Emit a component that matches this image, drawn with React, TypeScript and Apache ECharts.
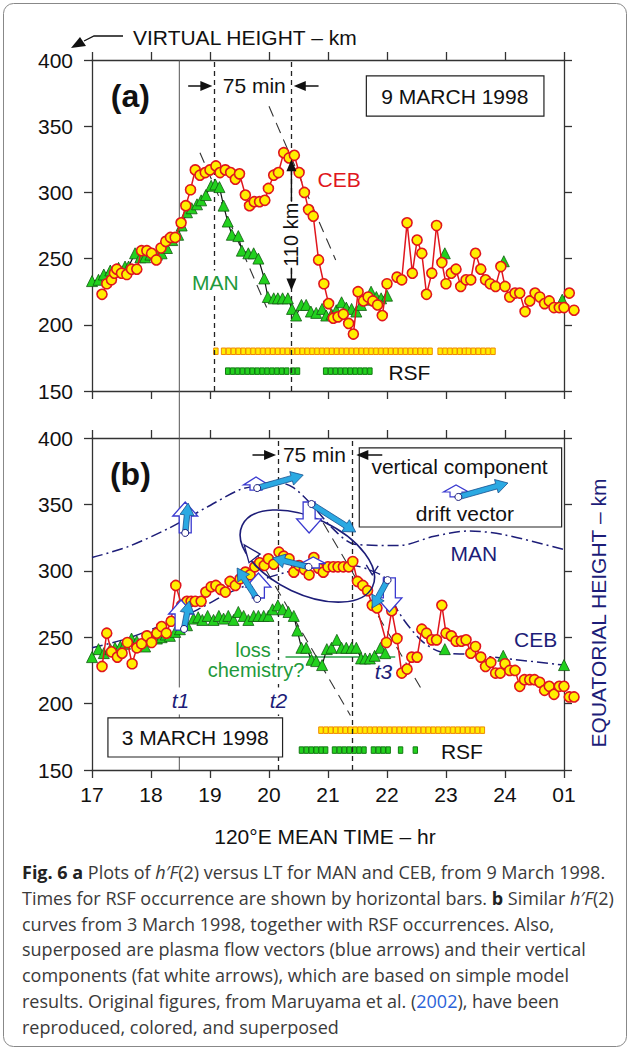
import React, { useEffect, useRef } from 'react';
import * as echarts from 'echarts';

// ---------------- data ----------------
const X_TICK_LABELS = ['17', '18', '19', '20', '21', '22', '23', '24', '01'];

// Panel (a) 9 March 1998 : h'F(2) [hour, km]
const CEB_A = [
  [17.17, 223], [17.25, 231], [17.33, 234], [17.38, 239], [17.42, 242], [17.5, 239], [17.59, 238], [17.67, 242], [17.76, 242],
  [17.84, 256], [17.93, 256], [18.01, 254], [18.09, 249], [18.17, 258], [18.25, 263], [18.33, 266], [18.41, 266], [18.51, 277],
  [18.59, 290], [18.67, 302], [18.75, 317], [18.83, 313], [18.92, 315], [19.0, 317], [19.1, 320], [19.17, 315], [19.26, 317],
  [19.35, 315], [19.43, 310], [19.5, 314], [19.6, 298], [19.67, 290], [19.75, 293], [19.84, 293], [19.93, 294], [19.99, 303],
  [20.08, 313], [20.16, 315], [20.25, 330], [20.34, 326], [20.43, 328], [20.51, 315], [20.6, 300], [20.67, 287], [20.75, 282],
  [20.84, 249], [20.93, 231], [21.01, 216], [21.09, 205], [21.17, 206], [21.26, 208], [21.35, 201], [21.43, 193], [21.51, 225],
  [21.6, 218], [21.68, 221], [21.76, 218], [21.84, 215], [21.92, 207], [22.0, 231], [22.08, null], [22.17, 236], [22.25, 234],
  [22.34, 277], [22.43, 239], [22.51, 264], [22.59, 254], [22.67, 223], [22.76, 239], [22.84, 275], [22.93, 247], [23.0, 231],
  [23.09, 239], [23.17, 242], [23.25, 229], [23.34, 234], [23.42, 234], [23.5, 254], [23.59, 242], [23.67, 234], [23.75, 231],
  [23.84, 229], [23.93, 244], [24.0, 229], [24.08, 221], [24.17, 224], [24.25, 224], [24.34, 210], [24.42, 218], [24.51, 224],
  [24.59, 221], [24.67, 216], [24.75, 218], [24.83, 213], [24.92, 213], [25.0, 213], [25.09, 224], [25.17, 211],
];
const MAN_A = [
  [17.0, 233], [17.11, 234], [17.2, 238], [17.31, 241], [17.45, 243], [17.56, 244], [17.62, 244], [17.73, 254], [17.82, 251],
  [17.9, 251], [17.99, 253], [18.1, 253], [18.18, 254], [18.27, 258], [18.36, 264], [18.46, 268], [18.52, 275], [18.61, 285],
  [18.69, 288], [18.78, 291], [18.85, 294], [18.93, 298], [19.02, 305], [19.09, 306], [19.16, 304], [19.23, 290], [19.3, 278],
  [19.37, 268], [19.48, 267], [19.54, 256], [19.65, 254], [19.74, 254], [19.82, 250], [19.92, 235], [19.98, 221], [20.08, 220],
  [20.15, 220], [20.23, 220], [20.32, 220], [20.39, 212], [20.46, 207], [20.55, 215], [20.63, 215], [20.71, 210], [20.8, 209],
  [20.9, 212], [20.97, 207], [21.06, 208], [21.14, 211], [21.23, 217], [21.31, 213], [21.4, 212], [21.48, 210], [21.56, 215],
  [21.65, 219], [21.73, 225], [21.82, 221], [21.9, 220], [22.0, 222], [22.5, null], [22.98, 254], [23.5, null], [23.98, 248],
  [24.5, null], [24.97, 219],
];
// RSF occurrence intervals [start hour, end hour]
const RSF_CEB_A = [[19.1, 19.1], [19.23, 22.73], [22.9, 23.3], [23.38, 23.8]];
const RSF_MAN_A = [[19.3, 20.27], [20.4, 20.45], [20.96, 21.68]];
const RSF_LEVEL_CEB = 180;
const RSF_LEVEL_MAN = 165;

// Panel (b) 3 March 1998
const CEB_B = [
  [17.17, 228], [17.25, 253], [17.33, 239], [17.43, 235], [17.51, 238], [17.6, 246], [17.68, 230], [17.76, 242], [17.84, 245],
  [17.93, 251], [18.01, 246], [18.1, 253], [18.18, 258], [18.26, 253], [18.34, 262], [18.42, 289], [18.52, 274], [18.61, 277],
  [18.68, 277], [18.75, 277], [18.85, 277], [18.93, 284], [19.02, 288], [19.1, 289], [19.18, 286], [19.26, 284], [19.34, 292],
  [19.43, 289], [19.51, 294], [19.6, 299], [19.68, 297], [19.76, 303], [19.84, 306], [19.92, 304], [19.99, 309], [20.08, 305],
  [20.17, 314], [20.25, 311], [20.34, 309], [20.42, 299], [20.51, 304], [20.6, 301], [20.68, 297], [20.76, 310], [20.84, 302],
  [20.92, 299], [21.0, 303], [21.09, 303], [21.17, 303], [21.26, 303], [21.35, 303], [21.42, 307], [21.5, 292], [21.59, 289],
  [21.67, 285], [21.75, 274], [21.83, 272], [21.99, 246], [22.08, 270], [22.17, 249], [22.25, 223], [22.34, 226], [22.42, 235],
  [22.51, 235], [22.59, 256], [22.67, 253], [22.76, 248], [22.84, 248], [22.93, 274], [23.0, 253], [23.09, 251], [23.17, 247],
  [23.26, 247], [23.34, 248], [23.42, 238], [23.5, 243], [23.59, 235], [23.67, 228], [23.76, 231], [23.84, 223], [23.92, 223],
  [24.0, 230], [24.08, 225], [24.17, 225], [24.25, 213], [24.33, 218], [24.42, 218], [24.5, 218], [24.59, 216], [24.67, 210],
  [24.75, 213], [24.83, 207], [24.92, 213], [25.0, 213], [25.09, 205], [25.17, 205],
];
const MAN_B = [
  [17.0, 235], [17.11, 241], [17.2, 238], [17.31, 241], [17.39, 242], [17.48, 243], [17.56, 245], [17.67, 249], [17.76, 247],
  [17.83, 244], [17.9, 243], [18.01, 250], [18.1, 249], [18.18, 250], [18.25, 252], [18.32, 251], [18.41, 254], [18.49, 256],
  [18.61, 259], [18.72, 264], [18.8, 265], [18.87, 263], [18.96, 266], [19.06, 263], [19.15, 266], [19.23, 264], [19.31, 266],
  [19.4, 263], [19.48, 269], [19.57, 266], [19.65, 263], [19.74, 266], [19.82, 266], [19.91, 266], [19.99, 266], [20.06, 271],
  [20.15, 274], [20.23, 271], [20.33, 269], [20.42, 266], [20.48, 255], [20.55, 242], [20.63, 242], [20.72, 233], [20.8, 232],
  [20.9, 229], [20.98, 241], [21.06, 242], [21.15, 248], [21.23, 242], [21.31, 242], [21.4, 242], [21.48, 242], [21.56, 234],
  [21.63, 234], [21.71, 234], [21.79, 236], [21.89, 242], [21.97, 238], [22.5, null], [22.98, 241], [23.5, null], [23.97, 236],
  [24.5, null], [25.0, 229],
];
// model equatorial heights (dash-dot curves)
const MAN_EQ_B = [
  [17.0, 310], [17.6, 318], [18.3, 332], [18.95, 348], [19.5, 361], [19.8, 364], [20.1, 367], [20.4, 363], [20.72, 350],
  [21.1, 331], [21.45, 320], [22.2, 319], [22.8, 326], [23.4, 330], [24.0, 327], [25.0, 316],
];
const CEB_EQ_B = [
  [17.0, 242], [17.6, 249], [18.18, 259], [18.8, 271], [19.3, 283], [19.8, 292], [20.3, 299], [20.7, 302], [21.4, 304],
  [21.8, 299], [22.0, 293], [22.17, 271], [22.57, 248], [22.9, 239], [23.4, 237], [24.0, 234], [25.0, 229],
];
const LOSS_LINE_B = [[20.28, 235], [22.14, 235]];
const RSF_CEB_B = [[20.88, 21.13], [21.21, 22.37], [22.45, 23.63]];
const RSF_MAN_B = [[20.55, 20.85], [20.96, 20.96], [21.11, 21.6], [21.77, 22.03], [22.23, 22.23], [22.48, 22.48]];

// plasma drift vectors (tail -> head) [h1, v1, h2, v2]
const DRIFT_VECTORS = [
  [18.58, 328.5, 18.63, 351], [19.8, 362.3, 20.58, 372.1], [20.72, 350.3, 21.47, 329.2], [22.01, 293, 21.75, 272],
  [18.56, 256.2, 18.65, 277.3], [19.8, 278.8, 19.46, 302.1], [20.67, 302.9, 20.06, 309.6],
];
// vertical components [h, v tail, v head]
const VERTICAL_COMPONENTS = [
  [18.58, 328.5, 351.8], [19.78, 360.8, 370.6], [20.68, 351.8, 328.5], [22.04, 294.6, 269],
  [18.51, 255.4, 278], [19.82, 279.5, 298.3], [20.75, 302.1, 310.4],
];

// ---------------- styles ----------------
const FONT = '"Liberation Sans", Arial, Helvetica, sans-serif';
const CAP_FONT = '"Open Sans", "Noto Sans", sans-serif';
const NAVY = '#1d1d78';
const RED = '#e0161d';
const YEL = '#ffee00';
const GRN = '#22d11e';
const GRN_TXT = '#1f9a3c';
const AX = { color: '#333', width: 1.3 };

function xAxis(gridIndex: number, position: string, showLabel: boolean) {
  return {
    type: 'value', gridIndex, position, min: 17, max: 25, interval: 1,
    axisLine: { show: true, onZero: false, lineStyle: AX },
    axisTick: { show: true, length: 8, lineStyle: AX },
    axisLabel: {
      show: showLabel, margin: 14, fontSize: 21, color: '#111', fontFamily: FONT,
      formatter: (v: number) => X_TICK_LABELS[Math.round(v - 17)],
    },
    splitLine: { show: false },
  };
}
function yAxis(gridIndex: number, position: string, showLabel: boolean) {
  return {
    type: 'value', gridIndex, position, min: 150, max: 400, interval: 50,
    axisLine: { show: true, onZero: false, lineStyle: AX },
    axisTick: { show: true, length: 8, lineStyle: AX },
    axisLabel: { show: showLabel, margin: 19, fontSize: 21, color: '#111', fontFamily: FONT },
    splitLine: { show: false },
  };
}

function cebSeries(axis: number, data: any[], extra: any = {}) {
  return {
    type: 'line', xAxisIndex: axis, yAxisIndex: axis, data, z: 6, clip: false, silent: true,
    symbol: 'circle', symbolSize: 10, showSymbol: true, connectNulls: false,
    lineStyle: { color: RED, width: 1.5 },
    itemStyle: { color: YEL, borderColor: RED, borderWidth: 1.6 },
    ...extra,
  };
}
function manSeries(axis: number, data: any[]) {
  return {
    type: 'line', xAxisIndex: axis, yAxisIndex: axis, data, z: 5, clip: false, silent: true,
    symbol: 'triangle', symbolSize: 11, showSymbol: true, connectNulls: false,
    lineStyle: { color: '#111', width: 1.2 },
    itemStyle: { color: GRN, borderColor: '#135a13', borderWidth: 0.8 },
  };
}
function rsfSeries(axis: number, intervals: number[][], level: number, fill: string, stroke: string) {
  return {
    type: 'custom', xAxisIndex: axis, yAxisIndex: axis, z: 4, clip: false, silent: true,
    encode: { x: [0, 1], y: 2 },
    data: intervals.map(([s, e]) => [s, e, level]),
    renderItem: (_p: any, api: any) => {
      const lv = api.value(2);
      const p0 = api.coord([api.value(0), lv]);
      const p1 = api.coord([api.value(1), lv]);
      const step = api.size([1 / 12, 0])[0];
      const n = Math.max(1, Math.round((p1[0] - p0[0]) / step) + 1);
      const w = step - 0.5, h = 6.5;
      const children: any[] = [];
      for (let i = 0; i < n; i++) {
        children.push({
          type: 'rect',
          shape: { x: p0[0] + i * step - w / 2, y: p0[1] - h / 2, width: w, height: h },
          style: { fill, stroke, lineWidth: 1 },
        });
      }
      return { type: 'group', children };
    },
  };
}
function dashDot(axis: number, data: any[]) {
  return {
    type: 'line', xAxisIndex: axis, yAxisIndex: axis, data, z: 3, silent: true, smooth: 0.3,
    symbol: 'none', lineStyle: { color: NAVY, width: 1.5, type: [11, 4, 2, 4] },
  };
}
const DASH_V = { color: '#222', type: [5, 4], width: 1.3 };
const DASH_S = { color: '#333', type: [11, 7], width: 1.1 };

function buildOption() {
  return {
    animation: false,
    backgroundColor: '#fff',
    textStyle: { fontFamily: FONT },
    grid: [
      { left: 92, top: 60, width: 472, height: 331, containLabel: false },
      { left: 92, top: 438, width: 472, height: 332, containLabel: false },
    ],
    xAxis: [xAxis(0, 'bottom', false), xAxis(0, 'top', false), xAxis(1, 'bottom', true), xAxis(1, 'top', false)],
    yAxis: [yAxis(0, 'left', true), yAxis(0, 'right', false), yAxis(1, 'left', true), yAxis(1, 'right', false)],
    series: [
      rsfSeries(0, RSF_CEB_A, RSF_LEVEL_CEB, YEL, '#f08a00'),
      rsfSeries(0, RSF_MAN_A, RSF_LEVEL_MAN, GRN, '#127a12'),
      manSeries(0, MAN_A),
      cebSeries(0, CEB_A, {
        markLine: {
          silent: true, symbol: ['none', 'none'], label: { show: false }, lineStyle: DASH_V,
          data: [
            { xAxis: 19.07 }, { xAxis: 20.38 },
            [{ coord: [18.83, 330], lineStyle: DASH_S }, { coord: [19.96, 213] }],
            [{ coord: [20.0, 365], lineStyle: DASH_S }, { coord: [21.13, 249] }],
          ],
        },
      }),
      rsfSeries(2, RSF_CEB_B, RSF_LEVEL_CEB, YEL, '#f08a00'),
      rsfSeries(2, RSF_MAN_B, RSF_LEVEL_MAN, GRN, '#127a12'),
      dashDot(2, MAN_EQ_B),
      dashDot(2, CEB_EQ_B),
      {
        type: 'line', xAxisIndex: 2, yAxisIndex: 2, data: LOSS_LINE_B, z: 4, silent: true,
        symbol: 'none', lineStyle: { color: '#2aa04a', width: 1.5 },
      },
      manSeries(2, MAN_B),
      cebSeries(2, CEB_B, {
        markLine: {
          silent: true, symbol: ['none', 'none'], label: { show: false }, lineStyle: DASH_V,
          data: [
            { xAxis: 20.15 }, { xAxis: 21.41 },
            [{ coord: [19.8, 312], lineStyle: DASH_S }, { coord: [21.38, 191] }],
            [{ coord: [20.92, 336], lineStyle: DASH_S }, { coord: [22.57, 212] }],
          ],
        },
      }),
    ],
  };
}

function arrowPoly(x1: number, y1: number, x2: number, y2: number, shaftW: number, headW: number, headL: number) {
  const dx = x2 - x1, dy = y2 - y1;
  const L = Math.hypot(dx, dy) || 1;
  const ux = dx / L, uy = dy / L, nx = -uy, ny = ux;
  const hl = Math.min(headL, L * 0.6);
  const bx = x2 - ux * hl, by = y2 - uy * hl;
  return [
    [x1 + nx * shaftW / 2, y1 + ny * shaftW / 2],
    [bx + nx * shaftW / 2, by + ny * shaftW / 2],
    [bx + nx * headW / 2, by + ny * headW / 2],
    [x2, y2],
    [bx - nx * headW / 2, by - ny * headW / 2],
    [bx - nx * shaftW / 2, by - ny * shaftW / 2],
    [x1 - nx * shaftW / 2, y1 - ny * shaftW / 2],
  ];
}

function buildGraphics(chart: any) {
  const els: any[] = [];
  const P = (g: number, h: number, v: number) =>
    chart.convertToPixel({ xAxisIndex: g * 2, yAxisIndex: g * 2 }, [h, v]) as number[];

  const text = (x: number, y: number, t: string, o: any = {}) => {
    els.push({
      type: 'text', x, y, z: 60, rotation: o.rotation || 0,
      style: {
        text: t, fill: o.color || '#111', fontSize: o.size || 21, fontFamily: o.family || FONT,
        fontWeight: o.weight || 'normal', fontStyle: o.style || 'normal',
        align: o.align || 'center', verticalAlign: o.valign || 'middle',
        backgroundColor: o.bg, padding: o.pad, lineHeight: o.lh, rich: o.rich,
      },
    });
  };
  const thinArrow = (x1: number, y1: number, x2: number, y2: number, color = '#111') => {
    els.push({ type: 'polygon', z: 61, shape: { points: arrowPoly(x1, y1, x2, y2, 1.4, 10, 12) }, style: { fill: color } });
  };
  const box = (g: number, h1: number, v1: number, h2: number, v2: number) => {
    const a = P(g, h1, v1), b = P(g, h2, v2);
    els.push({
      type: 'rect', z: 55, shape: { x: a[0], y: a[1], width: b[0] - a[0], height: b[1] - a[1] },
      style: { fill: '#fff', stroke: '#222', lineWidth: 1.2 },
    });
  };

  // outer frame
  els.push({ type: 'rect', z: 1, shape: { x: 3.5, y: 3.5, width: 623, height: 1043, r: 10 }, style: { fill: 'none', stroke: '#888', lineWidth: 1 } });

  // top label with arrow
  text(133, 37, 'VIRTUAL HEIGHT – km', { align: 'left' });
  els.push({ type: 'polyline', z: 60, shape: { points: [[123, 36], [94, 36], [84, 41]] }, style: { stroke: '#111', lineWidth: 1.3, fill: 'none' } });
  els.push({ type: 'polygon', z: 61, shape: { points: [[71, 48], [80, 37], [86, 46]] }, style: { fill: '#111' } });

  // t1 solid line through both panels
  {
    const a = P(0, 18.48, 400), b = P(1, 18.48, 150);
    els.push({ type: 'line', z: 4, shape: { x1: a[0], y1: a[1], x2: b[0], y2: b[1] }, style: { stroke: '#555', lineWidth: 1 } });
  }

  // ---------- panel (a) ----------
  { const p = P(0, 17.65, 373); text(p[0], p[1], '(a)', { size: 32, weight: 'bold' }); }
  { const p = P(0, 19.75, 380.4); text(p[0], p[1], '75 min'); }
  { const a = P(0, 18.63, 380.4), b = P(0, 19.04, 380.4); thinArrow(a[0], a[1], b[0], b[1]); }
  { const a = P(0, 20.84, 380.4), b = P(0, 20.42, 380.4); thinArrow(a[0], a[1], b[0], b[1]); }
  box(0, 21.65, 388, 24.66, 357.6);
  { const p = P(0, 23.15, 372.8); text(p[0], p[1], '9 MARCH 1998'); }
  { const p = P(0, 21.19, 309.4); text(p[0], p[1], 'CEB', { color: RED }); }
  { const p = P(0, 19.09, 232.3); text(p[0], p[1], 'MAN', { color: GRN_TXT, bg: '#fff', pad: [1, 2] }); }
  { const p = P(0, 22.38, 164.3); text(p[0], p[1], 'RSF'); }
  { const p = P(0, 20.37, 268); text(p[0], p[1], '110 km', { size: 20, rotation: Math.PI / 2, bg: '#fff', pad: [0, 1] }); }
  { const a = P(0, 20.38, 293.5), b = P(0, 20.38, 325); thinArrow(a[0], a[1], b[0], b[1]); }
  { const a = P(0, 20.38, 243), b = P(0, 20.38, 226); thinArrow(a[0], a[1], b[0], b[1]); }

  // ---------- panel (b) ----------
  { const p = P(1, 17.65, 373); text(p[0], p[1], '(b)', { size: 32, weight: 'bold' }); }
  { const p = P(1, 20.77, 387.2); text(p[0], p[1], '75 min'); }
  { const a = P(1, 19.72, 387.2), b = P(1, 20.12, 387.2); thinArrow(a[0], a[1], b[0], b[1]); }
  { const a = P(1, 21.92, 387.2), b = P(1, 21.48, 387.2); thinArrow(a[0], a[1], b[0], b[1]); }
  box(1, 21.53, 392.5, 24.96, 333);
  { const p = P(1, 23.23, 378.9); text(p[0], p[1], 'vertical component'); }
  { const p = P(1, 23.32, 343.5); text(p[0], p[1], 'drift vector'); }
  box(1, 17.27, 189.2, 20.23, 159.8);
  { const p = P(1, 18.75, 174.5); text(p[0], p[1], '3 MARCH 1998'); }
  { const p = P(1, 23.27, 163.6); text(p[0], p[1], 'RSF'); }
  { const p = P(1, 23.47, 312.7); text(p[0], p[1], 'MAN', { color: NAVY }); }
  { const p = P(1, 24.52, 247.9); text(p[0], p[1], 'CEB', { color: NAVY }); }
  { const p = P(1, 18.5, 202); text(p[0], p[1], 't1', { color: NAVY, style: 'italic', bg: '#fff', pad: [3, 1] }); }
  { const p = P(1, 20.16, 202); text(p[0], p[1], 't2', { color: NAVY, style: 'italic', bg: '#fff', pad: [3, 1] }); }
  { const p = P(1, 21.94, 224.5); text(p[0], p[1], 't3', { color: NAVY, style: 'italic' }); }
  { const p = P(1, 19.73, 240.4); text(p[0], p[1], 'loss', { color: GRN_TXT, size: 20, bg: '#fff', pad: [0, 1] }); }
  { const p = P(1, 19.78, 225.3); text(p[0], p[1], 'chemistry?', { color: GRN_TXT, size: 20, bg: '#fff', pad: [0, 1] }); }

  // ellipse loop
  {
    const c = P(1, 20.65, 311.1);
    els.push({
      type: 'ellipse', z: 20, x: c[0], y: c[1], rotation: -0.44,
      shape: { cx: 0, cy: 0, rx: 72, ry: 38 }, style: { fill: 'none', stroke: NAVY, lineWidth: 1.6 },
    });
    const t = P(1, 21.75, 297);
    els.push({
      type: 'polyline', z: 21, shape: { points: [[t[0] - 6, t[1] - 10], [t[0], t[1]], [t[0] + 6, t[1] - 9]] },
      style: { stroke: NAVY, lineWidth: 1.4, fill: 'none' },
    });
    const tip = P(1, 19.58, 319.5), base = P(1, 19.9, 301);
    els.push({ type: 'polygon', z: 21, shape: { points: arrowPoly(base[0], base[1], tip[0], tip[1], 0, 14, 17).slice(2, 5) }, style: { fill: '#fff', stroke: NAVY, lineWidth: 1.3 } });
  }

  // vertical components (fat white arrows)
  const fat = (x: number, y1: number, y2: number, head = 14) => {
    els.push({
      type: 'polygon', z: 30, shape: { points: arrowPoly(x, y1, x, y2, 12, 25, head) },
      style: { fill: '#fff', stroke: '#3a3ad0', lineWidth: 1.3 },
    });
  };
  const cyan = (x1: number, y1: number, x2: number, y2: number) => {
    els.push({
      type: 'polygon', z: 32, shape: { points: arrowPoly(x1, y1, x2, y2, 5.5, 14, 12) },
      style: { fill: '#2ba9e2', stroke: '#17508f', lineWidth: 0.8 },
    });
    els.push({ type: 'circle', z: 33, shape: { cx: x1, cy: y1, r: 3.5 }, style: { fill: '#fff', stroke: NAVY, lineWidth: 1 } });
  };
  VERTICAL_COMPONENTS.forEach(([h, v1, v2]) => {
    const a = P(1, h, v1), b = P(1, h, v2);
    fat(a[0], a[1], b[1]);
  });
  DRIFT_VECTORS.forEach(([h1, v1, h2, v2]) => {
    const a = P(1, h1, v1), b = P(1, h2, v2);
    cyan(a[0], a[1], b[0], b[1]);
  });
  // legend sample inside the box
  {
    const a = P(1, 23.17, 355.6), b = P(1, 23.17, 364.6);
    els.push({ type: 'polygon', z: 62, shape: { points: arrowPoly(a[0], a[1], b[0], b[1], 12, 25, 7) }, style: { fill: '#fff', stroke: '#3a3ad0', lineWidth: 1.2 } });
    const c = P(1, 23.21, 355.6), d = P(1, 24.05, 366.1);
    els.push({ type: 'polygon', z: 63, shape: { points: arrowPoly(c[0], c[1], d[0], d[1], 5.5, 14, 12) }, style: { fill: '#2ba9e2', stroke: '#17508f', lineWidth: 0.8 } });
    els.push({ type: 'circle', z: 64, shape: { cx: c[0], cy: c[1], r: 3.5 }, style: { fill: '#fff', stroke: NAVY, lineWidth: 1 } });
  }

  // right axis title & bottom axis title
  text(598, 613, 'EQUATORIAL HEIGHT – km', { color: NAVY, rotation: Math.PI / 2 });
  text(325, 836, '120°E MEAN TIME – hr');

  // caption
  const CS = 18;
  const rb = { fontWeight: 'bold', fontSize: CS, fontFamily: CAP_FONT, fill: '#222', color: '#222' };
  const ri = { fontStyle: 'italic', fontSize: CS, fontFamily: CAP_FONT, fill: '#3a3a3a', color: '#3a3a3a' };
  const rl = { fontSize: CS, fontFamily: CAP_FONT, fill: '#2a62d8', color: '#2a62d8' };
  const capLines = [
    '{b|Fig. 6 a} Plots of {i|h′F}(2) versus LT for MAN and CEB, from 9 March 1998.',
    'Times for RSF occurrence are shown by horizontal bars. {b|b} Similar {i|h′F}(2)',
    'curves from 3 March 1998, together with RSF occurrences. Also,',
    'superposed are plasma flow vectors (blue arrows) and their vertical',
    'components (fat white arrows), which are based on simple model',
    'results. Original figures, from Maruyama et al. ({l|2002}), have been',
    'reproduced, colored, and superposed',
  ];
  capLines.forEach((ln, i) => {
    text(22, 872 + i * 25.8, ln, { align: 'left', size: CS, family: CAP_FONT, color: '#3a3a3a', rich: { b: rb, i: ri, l: rl } });
  });

  return els;
}

export default function App() {
  const ref = useRef<HTMLDivElement>(null);
  useEffect(() => {
    if (!ref.current) return;
    const chart = echarts.init(ref.current, null, { renderer: 'svg' });
    chart.setOption(buildOption() as any);
    chart.setOption({ graphic: { elements: buildGraphics(chart) } } as any);
    return () => chart.dispose();
  }, []);
  return (
    <div
      ref={ref}
      style={{ position: 'absolute', left: 0, top: 0, width: 630, height: 1050, background: '#fff' }}
    />
  );
}
